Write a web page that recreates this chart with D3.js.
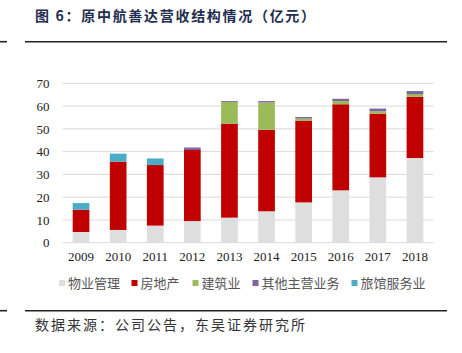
<!DOCTYPE html>
<html>
<head>
<meta charset="utf-8">
<script src="https://cdn.jsdelivr.net/npm/d3@7"></script>
<style>
  body { margin: 0; background: #fff; }
  svg { display: block; }
</style>
</head>
<body>
<div id="chart"></div>
<script>
// DATA
const years = ["2009", "2010", "2011", "2012", "2013", "2014", "2015", "2016", "2017", "2018"];
const seriesNames = ["物业管理", "房地产", "建筑业", "其他主营业务", "旅馆服务业"];
const propertyMgmt = [4.7, 5.6, 7.5, 9.5, 11.0, 13.8, 17.7, 23.0, 28.7, 37.2];
const realEstate   = [9.8, 30.0, 26.6, 31.2, 41.3, 35.8, 35.9, 37.8, 28.0, 26.9];
const construction = [0, 0, 0, 0, 9.5, 12.0, 0.9, 1.4, 1.0, 1.2];
const otherMain    = [0, 0, 0, 1.1, 0.4, 0.6, 0.7, 1.0, 1.2, 1.3];
const hotel        = [2.9, 3.5, 2.9, 0, 0, 0, 0, 0, 0, 0];
const yTicks = [0, 10, 20, 30, 40, 50, 60, 70];

const colors = ["#dedede", "#c00000", "#9bbb59", "#8064a2", "#4bacc6"];

const W = 462, H = 353;
const plot = { left: 62.5, right: 433.5, top: 83.3, bottom: 242.7 };

const svg = d3.select("#chart").append("svg")
    .attr("width", W)
    .attr("height", H);

// TITLE + RULES
svg.append("text")
    .attr("x", 35)
    .attr("y", 21)
    .attr("font-family", "'Noto Sans CJK SC', sans-serif")
    .attr("font-weight", 700)
    .attr("font-size", "14px")
    .attr("letter-spacing", "1.7px")
    .attr("fill", "#1f2d4f")
    .text("图 6：原中航善达营收结构情况（亿元）");

[41.7, 310.7].forEach(y => {
    svg.append("line").attr("x1", 0).attr("x2", 7).attr("y1", y).attr("y2", y)
        .attr("stroke", "#222").attr("stroke-width", 1.6);
    svg.append("line").attr("x1", 25).attr("x2", 447).attr("y1", y).attr("y2", y)
        .attr("stroke", "#222").attr("stroke-width", 1.6);
});

svg.append("text")
    .attr("x", 35)
    .attr("y", 330)
    .attr("font-family", "'Noto Sans CJK SC', sans-serif")
    .attr("font-size", "14px")
    .attr("letter-spacing", "2px")
    .attr("fill", "#333")
    .text("数据来源：公司公告，东吴证券研究所");

// SCALES
const x = d3.scaleBand()
    .domain(years)
    .range([plot.left, plot.right])
    .paddingInner(0.55)
    .paddingOuter(0.275);

const y = d3.scaleLinear()
    .domain([0, 70])
    .range([plot.bottom, plot.top]);

// GRID
svg.append("g")
    .selectAll("line")
    .data(yTicks)
    .join("line")
    .attr("x1", plot.left)
    .attr("x2", plot.right)
    .attr("y1", d => y(d))
    .attr("y2", d => y(d))
    .attr("stroke", "#d9d9d9")
    .attr("stroke-width", 1);

// Y AXIS LABELS
const yAxis = svg.append("g")
    .attr("transform", `translate(${plot.left - 13},0)`)
    .call(d3.axisLeft(y).tickValues(yTicks).tickSize(0).tickPadding(0));
yAxis.select(".domain").remove();
yAxis.selectAll("text")
    .attr("font-family", "'Liberation Serif', 'Times New Roman', serif")
    .attr("font-size", "13px")
    .attr("fill", "#222");

// X AXIS LABELS
const xAxis = svg.append("g")
    .attr("transform", `translate(0,${plot.bottom + 9})`)
    .call(d3.axisBottom(x).tickSize(0).tickPadding(0));
xAxis.select(".domain").remove();
xAxis.selectAll("text")
    .attr("font-family", "'Liberation Serif', 'Times New Roman', serif")
    .attr("font-size", "13px")
    .attr("fill", "#222");

// STACKED BARS
const rows = years.map((yr, i) => ({
    year: yr,
    s0: propertyMgmt[i], s1: realEstate[i], s2: construction[i], s3: otherMain[i], s4: hotel[i]
}));
const stack = d3.stack().keys(["s0", "s1", "s2", "s3", "s4"]);
const layers = stack(rows);

svg.append("g")
    .selectAll("g")
    .data(layers)
    .join("g")
    .attr("fill", (d, i) => colors[i])
    .selectAll("rect")
    .data(d => d)
    .join("rect")
    .attr("x", d => x(d.data.year))
    .attr("width", x.bandwidth())
    .attr("y", d => y(d[1]))
    .attr("height", d => y(d[0]) - y(d[1]));

// LEGEND
const legendX = [59, 131.5, 192.5, 252.5, 351.5];
const legend = svg.append("g");
seriesNames.forEach((name, i) => {
    legend.append("rect")
        .attr("x", legendX[i])
        .attr("y", 280)
        .attr("width", 6)
        .attr("height", 6)
        .attr("fill", colors[i]);
    legend.append("text")
        .attr("x", legendX[i] + 9)
        .attr("y", 288)
        .attr("font-family", "'Noto Sans CJK SC', sans-serif")
        .attr("font-size", "13px")
        .attr("fill", "#555")
        .text(name);
});
</script>
</body>
</html>
